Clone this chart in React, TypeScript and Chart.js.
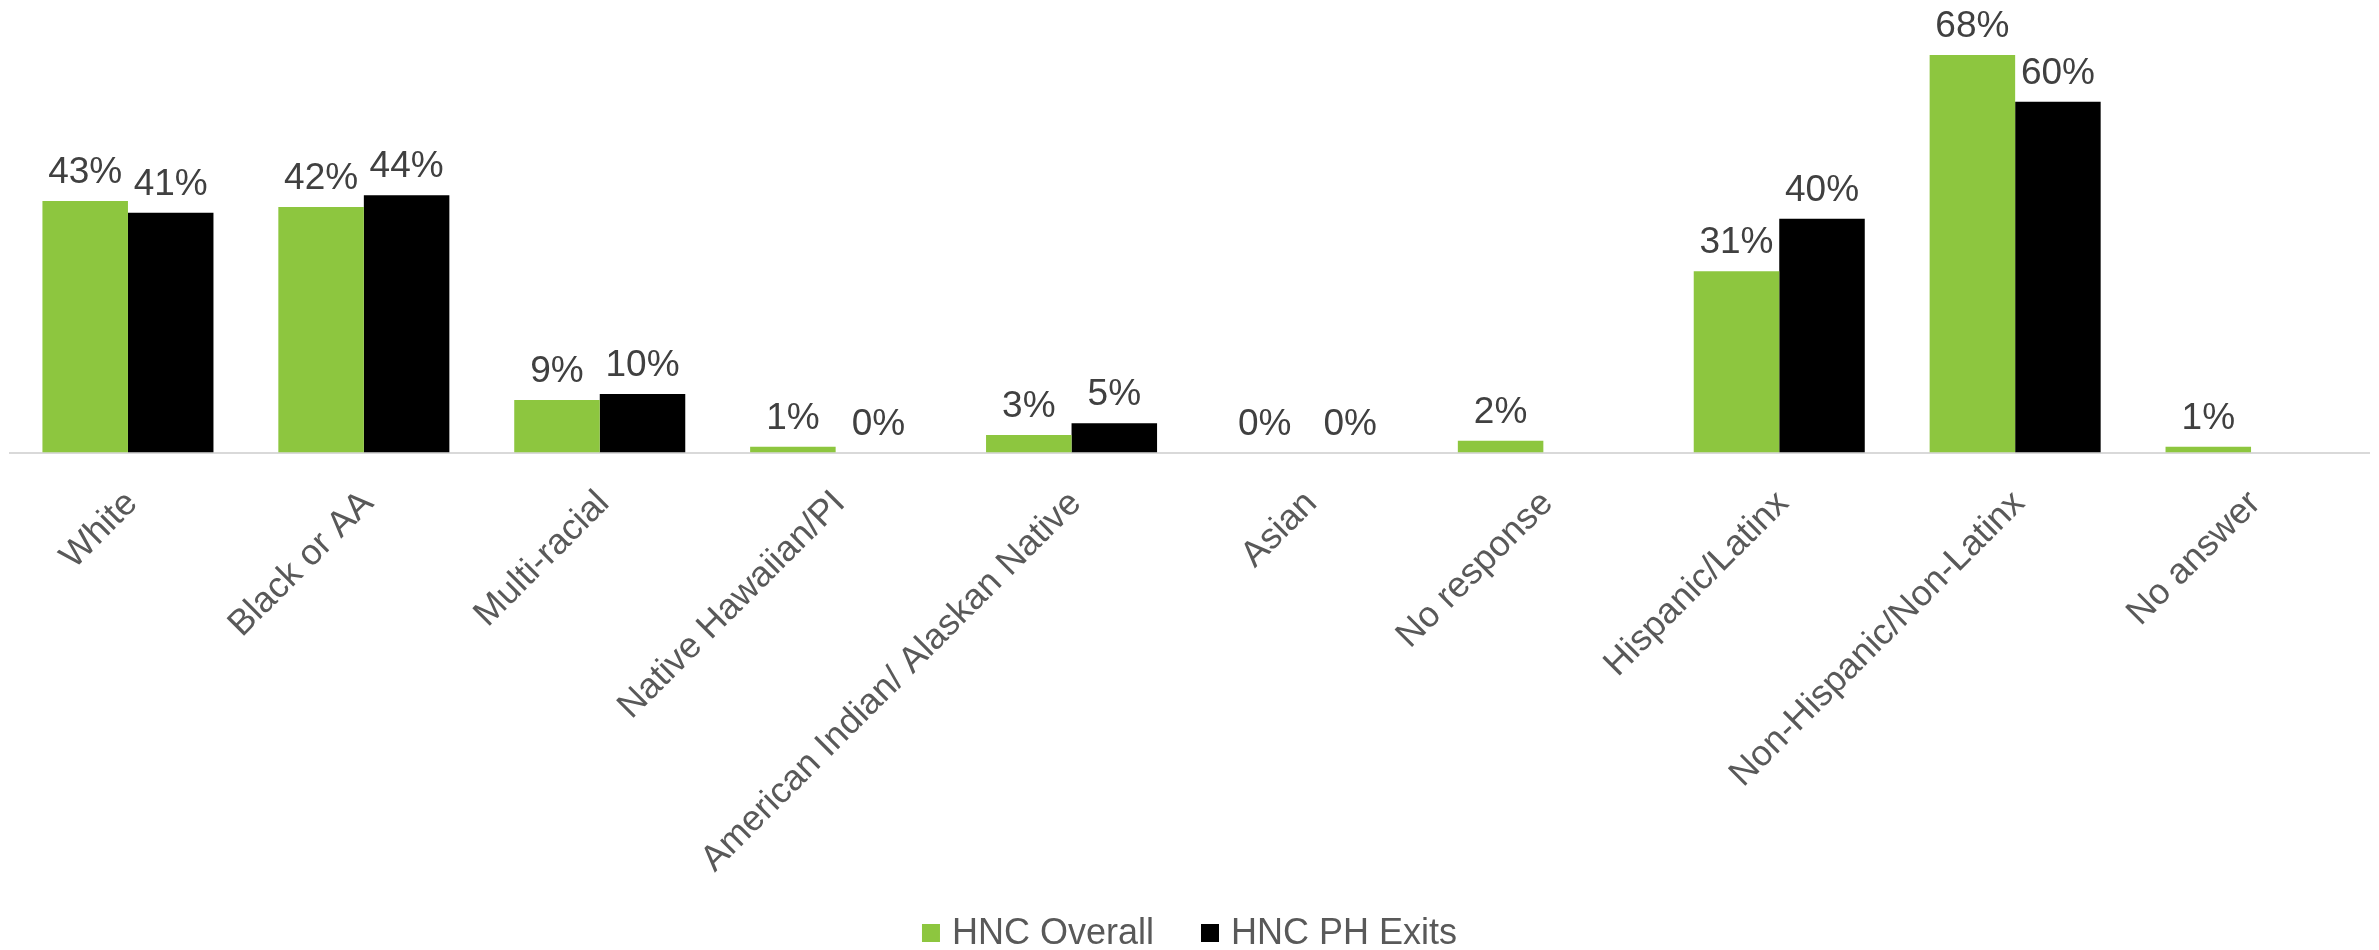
import React, { useEffect, useRef } from "react";
import { Chart, registerables } from "chart.js";

Chart.register(...registerables);

const categories = [
  "White",
  "Black or AA",
  "Multi-racial",
  "Native Hawaiian/PI",
  "American Indian/ Alaskan Native",
  "Asian",
  "No response",
  "Hispanic/Latinx",
  "Non-Hispanic/Non-Latinx",
  "No answer",
];

const seriesNames = ["HNC Overall", "HNC PH Exits"];
const hncOverall = [43, 42, 9, 1, 3, 0, 2, 31, 68, 1];
const hncPhExits = [41, 44, 10, 0, 5, 0, null, 40, 60, null];
const seriesColors = ["#8DC63F", "#000000"];

const FONT = "'Liberation Sans', Arial, Helvetica, sans-serif";

const dataLabelPlugin = {
  id: "dataLabels",
  afterDatasetsDraw(chart: any) {
    const ctx = chart.ctx;
    ctx.save();
    ctx.font = `37px ${FONT}`;
    ctx.fillStyle = "#404040";
    ctx.textAlign = "center";
    ctx.textBaseline = "alphabetic";
    chart.data.datasets.forEach((ds: any, di: number) => {
      const meta = chart.getDatasetMeta(di);
      meta.data.forEach((bar: any, i: number) => {
        const v = ds.data[i];
        if (v === null || v === undefined) return;
        ctx.fillText(`${Math.round(v)}%`, bar.x, bar.y - 18);
      });
    });
    ctx.restore();
  },
};

const legendPlugin = {
  id: "customLegend",
  afterDraw(chart: any) {
    const ctx = chart.ctx;
    ctx.save();
    ctx.font = `36px ${FONT}`;
    const box = 18;
    const gapBoxText = 12;
    const gapItems = 47;
    const widths = seriesNames.map((n) => ctx.measureText(n).width);
    let total = 0;
    widths.forEach((w, i) => {
      total += box + gapBoxText + w + (i < widths.length - 1 ? gapItems : 0);
    });
    let x = chart.width / 2 - total / 2;
    const cy = 933;
    ctx.textBaseline = "middle";
    ctx.textAlign = "left";
    seriesNames.forEach((n, i) => {
      ctx.fillStyle = seriesColors[i];
      ctx.fillRect(x, cy - box / 2, box, box);
      x += box + gapBoxText;
      ctx.fillStyle = "#595959";
      ctx.fillText(n, x, cy + 1);
      x += widths[i] + gapItems;
    });
    ctx.restore();
  },
};

export default function App() {
  const canvasRef = useRef<HTMLCanvasElement>(null);

  useEffect(() => {
    if (!canvasRef.current) return;
    const chart = new Chart(canvasRef.current, {
      type: "bar",
      data: {
        labels: categories,
        datasets: [
          {
            label: seriesNames[0],
            data: hncOverall,
            backgroundColor: seriesColors[0],
            categoryPercentage: 0.725,
            barPercentage: 1,
          },
          {
            label: seriesNames[1],
            data: hncPhExits,
            backgroundColor: seriesColors[1],
            categoryPercentage: 0.725,
            barPercentage: 1,
          },
        ],
      },
      options: {
        animation: false,
        responsive: false,
        maintainAspectRatio: false,
        layout: { padding: { left: 10, right: 10, top: 14, bottom: 0 } },
        plugins: {
          legend: { display: false },
          tooltip: { enabled: false },
        },
        scales: {
          x: {
            grid: { display: false, drawTicks: false },
            border: { display: true, color: "#D9D9D9", width: 2 },
            ticks: {
              autoSkip: false,
              minRotation: 45,
              maxRotation: 45,
              padding: 30,
              labelOffset: 4,
              color: "#595959",
              font: { family: FONT, size: 36 },
            },
            afterFit: (scale: any) => {
              scale.height = 497.5;
            },
          },
          y: {
            display: false,
            min: 0,
            max: 75,
          },
        },
      },
      plugins: [dataLabelPlugin, legendPlugin],
    });
    return () => chart.destroy();
  }, []);

  return (
    <div style={{ position: "absolute", left: 0, top: 0, width: 2379, height: 950, background: "#fff" }}>
      <canvas ref={canvasRef} width={2379} height={950} style={{ width: 2379, height: 950, display: "block" }} />
    </div>
  );
}
